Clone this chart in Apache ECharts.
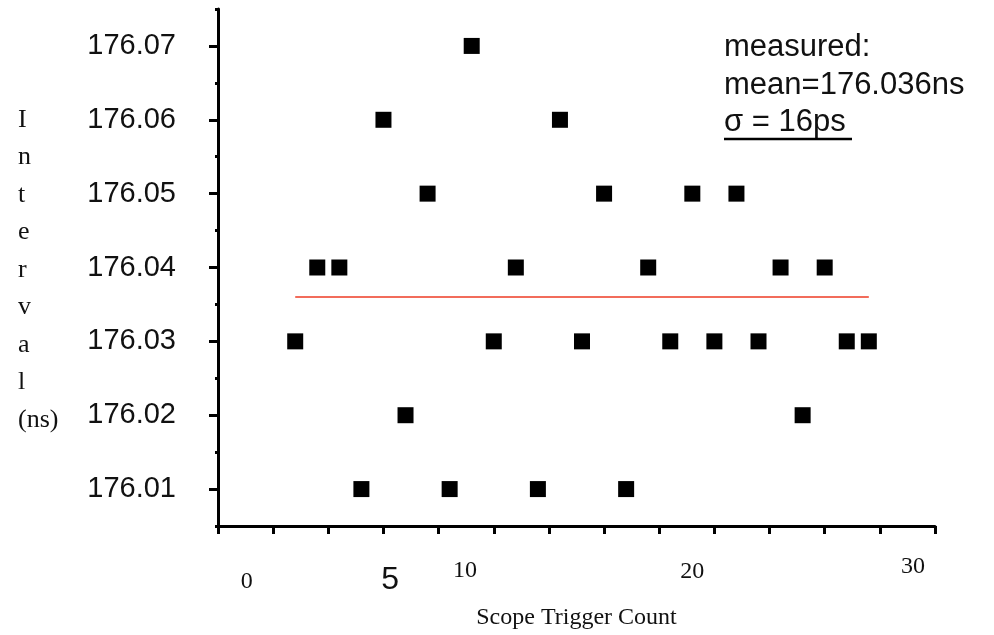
<!DOCTYPE html>
<html><head><meta charset="utf-8">
<script src="https://cdn.jsdelivr.net/npm/echarts@6/dist/echarts.min.js"></script>
<style>html,body{margin:0;padding:0;background:#fff}#c{width:994px;height:635px}</style>
</head><body><div id="c"></div>
<script>
// ---- data ----
const triggerCounts = [1,2,3,4,5,6,7,8,9,10,11,12,13,14,15,16,17,18,19,20,21,22,23,24,25,26,27];
const intervals = [176.03,176.04,176.04,176.01,176.06,176.02,176.05,176.01,176.07,176.03,176.04,176.01,176.06,176.03,176.05,176.01,176.04,176.03,176.05,176.03,176.05,176.03,176.04,176.02,176.04,176.03,176.03];
const meanValue = 176.036;
const meanSpan = [1, 27];
const yTickLabels = [176.01,176.02,176.03,176.04,176.05,176.06,176.07];
const xTickLabels = ['0','5','10','20','30'];
const xTickLabelValues = [-1.2, 5.3, 8.7, 19.0, 29.0];
const noteLines = ['measured:', 'mean=176.036ns', '\u03C3 = 16ps'];
const yTitleLetters = ['I','n','t','e','r','v','a','l','(ns)'];

const chart = echarts.init(document.getElementById('c'), null, {renderer:'canvas'});
const isMajor = v => Math.round(v * 1000) % 10 === 0;
const yMin = 176.005, yMax = 176.075;

chart.setOption({
  animation:false,
  backgroundColor:'#fff',
  grid:{left:218, right:59, top:9, bottom:101},
  xAxis:{
    type:'value', min:-2.5, max:30, interval:2.5,
    axisLine:{show:true, onZero:false, lineStyle:{color:'#000', width:3}},
    axisTick:{show:true, length:8, lineStyle:{color:'#000', width:3}},
    axisLabel:{show:false},
    splitLine:{show:false},
    name:'Scope Trigger Count', nameLocation:'middle', nameGap:80,
    nameTextStyle:{fontFamily:'Liberation Serif', fontSize:24, color:'#111'}
  },
  yAxis:[
    {
      type:'value', min:yMin, max:yMax, interval:0.005,
      axisLine:{show:true, onZero:false, lineStyle:{color:'#000', width:3}},
      axisTick:{show:true, length:3, lineStyle:{color:'#000', width:3}},
      axisLabel:{
        formatter: v => isMajor(v) ? v.toFixed(2) : '',
        fontFamily:'Liberation Sans', fontSize:29, color:'#111', margin:42
      },
      splitLine:{show:false}
    },
    {
      type:'value', min:yMin, max:yMax, interval:0.005, position:'left', offset:0,
      axisLine:{show:false, onZero:false},
      axisTick:{show:true, customValues:yTickLabels, length:9, lineStyle:{color:'#000', width:3}},
      axisLabel:{show:false},
      splitLine:{show:false}
    }
  ],
  series:[
    {
      type:'line', yAxisIndex:0,
      data: meanSpan.map(x => [x, meanValue]),
      symbol:'none', lineStyle:{color:'#ee3b24', width:1.5}, z:1
    },
    {
      type:'scatter', yAxisIndex:0,
      data: triggerCounts.map((x,i) => [x, intervals[i]]),
      symbol:'rect', symbolSize:16,
      itemStyle:{color:'#000', opacity:1}, z:2
    }
  ]
});

const xLabelStyles = [
  {font:'24px "Liberation Serif"', y:582},
  {font:'32px "Liberation Sans"', y:580},
  {font:'24px "Liberation Serif"', y:571},
  {font:'24px "Liberation Serif"', y:572},
  {font:'24px "Liberation Serif"', y:567}
];

const graphics = xTickLabels.map((t,i) => ({
  type:'text',
  x: chart.convertToPixel({xAxisIndex:0}, xTickLabelValues[i]),
  y: xLabelStyles[i].y,
  style:{text:t, font:xLabelStyles[i].font, fill:'#111', align:'center', verticalAlign:'middle'}
}));

graphics.push({
  type:'text', x:18, y:101,
  style:{text:yTitleLetters.join('\n'), font:'26px "Liberation Serif"', fill:'#111',
         lineHeight:37.5, align:'left', verticalAlign:'top'}
});

graphics.push({
  type:'text', x:724, y:29,
  style:{text:noteLines.join('\n'), font:'31px "Liberation Sans"', fill:'#111',
         lineHeight:37.5, align:'left', verticalAlign:'top'}
});
graphics.push({
  type:'line', shape:{x1:724, y1:139, x2:852, y2:139},
  style:{stroke:'#000', lineWidth:2.5}
});

chart.setOption({graphic: graphics});
</script>
</body></html>
